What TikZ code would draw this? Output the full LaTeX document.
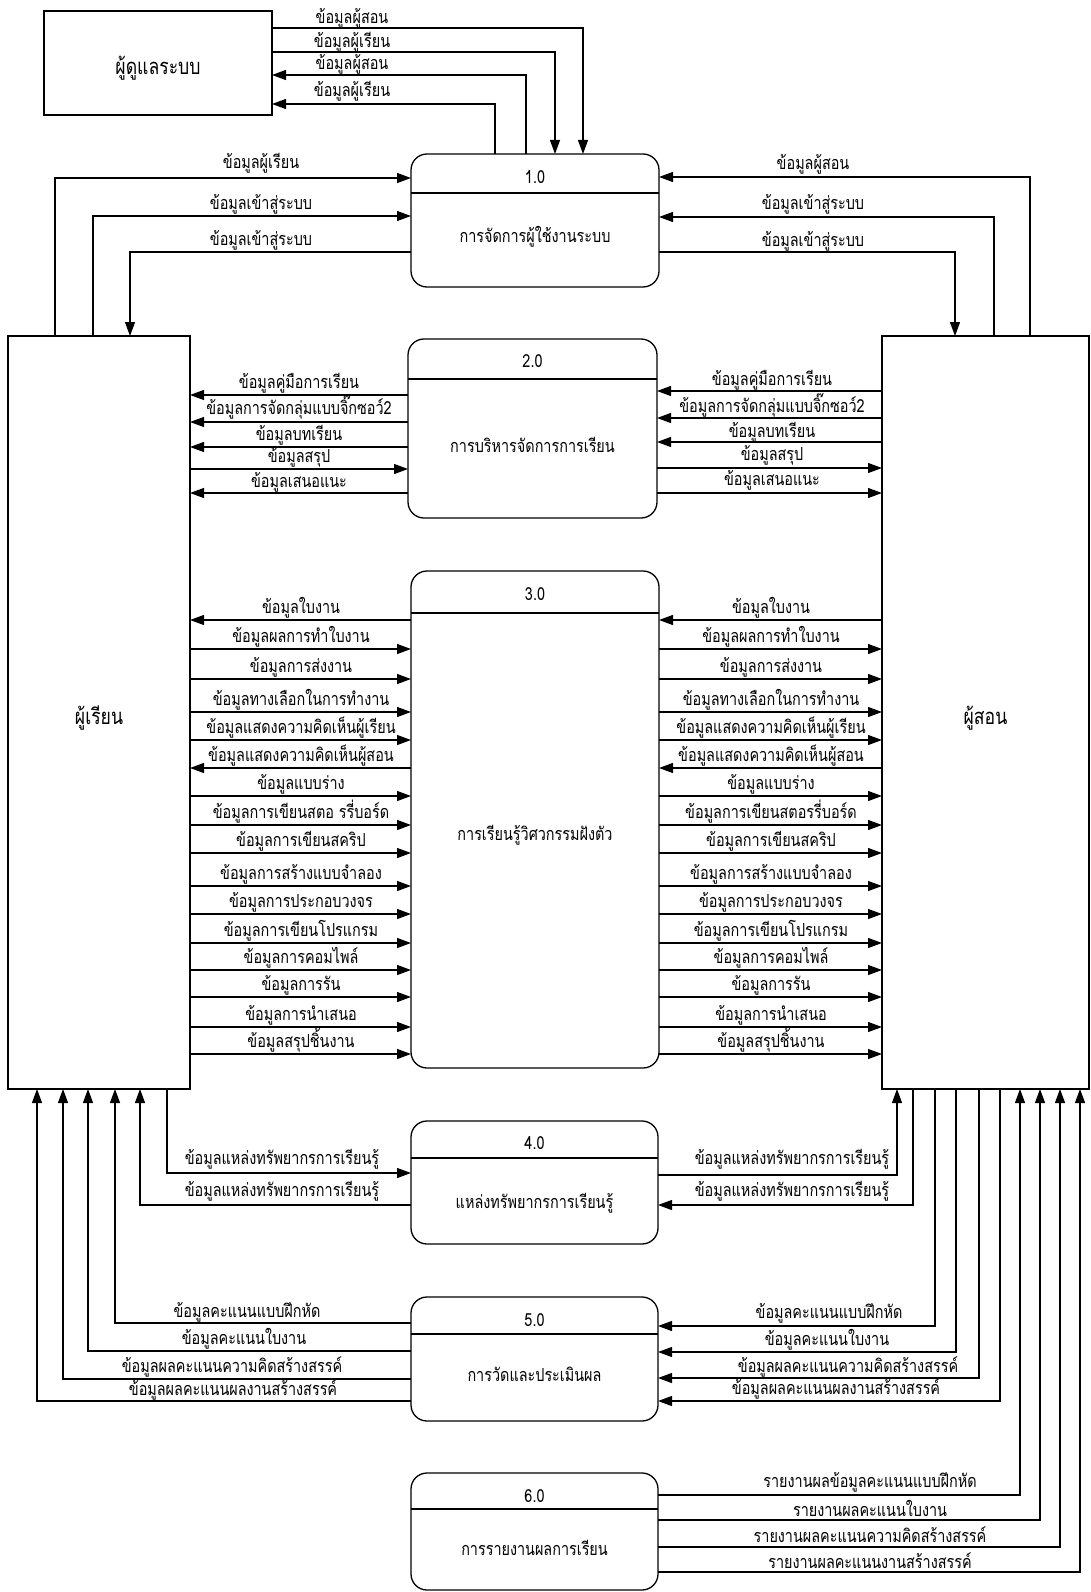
\documentclass[tikz,border=0pt]{standalone}
\usepackage{fontspec}
\setmainfont[Script=Thai,FakeStretch=0.8]{Loma}
\newfontfamily\thaifont[Script=Thai,FakeStretch=0.8]{Loma}
\usetikzlibrary{arrows.meta,calc}

\newcommand{\lblfont}{\thaifont\fontsize{18}{20}\selectfont}
\newcommand{\entfont}{\thaifont\fontsize{22}{24}\selectfont}

\tikzset{
  entity/.style={draw, line width=1.2pt, inner sep=0pt, outer sep=0pt, font=\entfont,
    text height=23pt, text depth=0pt},
  proc/.style={draw, line width=1.3pt, rounded corners=16pt, inner sep=0pt, outer sep=0pt},
  flow/.style={line width=1.2pt, -{Triangle[length=14pt,width=10pt]}},
  lbl/.style={anchor=base, inner sep=0pt, font=\lblfont},
}

\begin{document}
\begin{tikzpicture}[x=1pt, y=-1pt]
        \useasboundingbox (0,0) rectangle (1090,1592);

        % Entites externes
        \node [entity, minimum width=228pt, minimum height=104pt] (adm) at (158,63) {ผู้ดูแลระบบ};
        \node [entity, minimum width=182pt, minimum height=753pt] (stu) at (99,712.5) {ผู้เรียน};
        \node [entity, minimum width=207pt, minimum height=753pt] (tea) at (985.5,712.5) {ผู้สอน};

        % Processus 1.0 - 6.0
        \node [proc, minimum width=248pt, minimum height=133pt] (p1) at (535,220.5) {};
        \draw [line width=1.3pt] (p1.west |- 0,193) -- (p1.east |- 0,193);
        \node [font=\lblfont] (p1n) at (535,177) {1.0};
        \node [lbl] (p1t) at (535,242) {การจัดการผู้ใช้งานระบบ};

        \node [proc, minimum width=249pt, minimum height=179pt] (p2) at (532.5,428.5) {};
        \draw [line width=1.3pt] (p2.west |- 0,379) -- (p2.east |- 0,379);
        \node [font=\lblfont] (p2n) at (532.5,361) {2.0};
        \node [lbl] (p2t) at (532.5,452) {การบริหารจัดการการเรียน};

        \node [proc, minimum width=248pt, minimum height=497pt] (p3) at (535,819.5) {};
        \draw [line width=1.3pt] (p3.west |- 0,613) -- (p3.east |- 0,613);
        \node [font=\lblfont] (p3n) at (535,594) {3.0};
        \node [lbl] (p3t) at (535,840) {การเรียนรู้วิศวกรรมฝังตัว};

        \node [proc, minimum width=247pt, minimum height=123pt] (p4) at (534.5,1182.5) {};
        \draw [line width=1.3pt] (p4.west |- 0,1158) -- (p4.east |- 0,1158);
        \node [font=\lblfont] (p4n) at (534.5,1143) {4.0};
        \node [lbl] (p4t) at (534.5,1208) {แหล่งทรัพยากรการเรียนรู้};

        \node [proc, minimum width=247pt, minimum height=124pt] (p5) at (534.5,1359) {};
        \draw [line width=1.3pt] (p5.west |- 0,1334) -- (p5.east |- 0,1334);
        \node [font=\lblfont] (p5n) at (534.5,1320) {5.0};
        \node [lbl] (p5t) at (534.5,1381) {การวัดและประเมินผล};

        \node [proc, minimum width=247pt, minimum height=117pt] (p6) at (534.5,1531.5) {};
        \draw [line width=1.3pt] (p6.west |- 0,1509) -- (p6.east |- 0,1509);
        \node [font=\lblfont] (p6n) at (534.5,1496) {6.0};
        \node [lbl] (p6t) at (534.5,1555) {การรายงานผลการเรียน};

        % Flux ผู้ดูแลระบบ <-> 1.0
        \draw [flow] (adm.east |- 0,28) -| (p1.north -| 583,0);
        \draw [flow] (adm.east |- 0,52) -| (p1.north -| 555,0);
        \draw [flow] (p1.north -| 526,0) |- (adm.east |- 0,75);
        \draw [flow] (p1.north -| 495,0) |- (adm.east |- 0,104);
        \node [lbl] (la1) at (352,24) {ข้อมูลผู้สอน};
        \node [lbl] (la2) at (352,47.5) {ข้อมูลผู้เรียน};
        \node [lbl] (la3) at (352,70) {ข้อมูลผู้สอน};
        \node [lbl] (la4) at (352,97) {ข้อมูลผู้เรียน};

        % Flux ผู้เรียน / ผู้สอน <-> 1.0
        \draw [flow] (stu.north -| 55,0) |- (p1.west |- 0,178);
        \draw [flow] (stu.north -| 93,0) |- (p1.west |- 0,216);
        \draw [flow] (p1.west |- 0,252) -| (stu.north -| 130,0);
        \node [lbl] (l1a) at (261,168) {ข้อมูลผู้เรียน};
        \node [lbl] (l1b) at (261,209) {ข้อมูลเข้าสู่ระบบ};
        \node [lbl] (l1c) at (261,245) {ข้อมูลเข้าสู่ระบบ};

        \draw [flow] (tea.north -| 1030,0) |- (p1.east |- 0,177);
        \draw [flow] (tea.north -| 994,0) |- (p1.east |- 0,217);
        \draw [flow] (p1.east |- 0,252) -| (tea.north -| 955,0);
        \node [lbl] (r1a) at (813,169) {ข้อมูลผู้สอน};
        \node [lbl] (r1b) at (813,209) {ข้อมูลเข้าสู่ระบบ};
        \node [lbl] (r1c) at (813,246) {ข้อมูลเข้าสู่ระบบ};

        % Flux 2.0
        \draw [flow] (p2.west |- 0,395) -- (stu.east |- 0,395);
        \draw [flow] (p2.west |- 0,422) -- (stu.east |- 0,422);
        \draw [flow] (p2.west |- 0,447) -- (stu.east |- 0,447);
        \draw [flow] (stu.east |- 0,469) -- (p2.west |- 0,469);
        \draw [flow] (p2.west |- 0,493) -- (stu.east |- 0,493);
        \node [lbl] (l2a) at (299,388) {ข้อมูลคู่มือการเรียน};
        \node [lbl] (l2b) at (299,414) {ข้อมูลการจัดกลุ่มแบบจิ๊กซอว์2};
        \node [lbl] (l2c) at (299,440) {ข้อมูลบทเรียน};
        \node [lbl] (l2d) at (299,462) {ข้อมูลสรุป};
        \node [lbl] (l2e) at (299,487) {ข้อมูลเสนอแนะ};

        \draw [flow] (tea.west |- 0,391) -- (p2.east |- 0,391);
        \draw [flow] (tea.west |- 0,418) -- (p2.east |- 0,418);
        \draw [flow] (tea.west |- 0,442) -- (p2.east |- 0,442);
        \draw [flow] (p2.east |- 0,468) -- (tea.west |- 0,468);
        \draw [flow] (p2.east |- 0,493) -- (tea.west |- 0,493);
        \node [lbl] (r2a) at (772,385) {ข้อมูลคู่มือการเรียน};
        \node [lbl] (r2b) at (772,412) {ข้อมูลการจัดกลุ่มแบบจิ๊กซอว์2};
        \node [lbl] (r2c) at (772,437) {ข้อมูลบทเรียน};
        \node [lbl] (r2d) at (772,460) {ข้อมูลสรุป};
        \node [lbl] (r2e) at (772,485) {ข้อมูลเสนอแนะ};

        % Flux 3.0 (gauche)
        \draw [flow] (p3.west |- 0,620) -- (stu.east |- 0,620);
        \draw [flow] (stu.east |- 0,649) -- (p3.west |- 0,649);
        \draw [flow] (stu.east |- 0,679) -- (p3.west |- 0,679);
        \draw [flow] (stu.east |- 0,712) -- (p3.west |- 0,712);
        \draw [flow] (stu.east |- 0,740) -- (p3.west |- 0,740);
        \draw [flow] (p3.west |- 0,768) -- (stu.east |- 0,768);
        \draw [flow] (stu.east |- 0,796) -- (p3.west |- 0,796);
        \draw [flow] (stu.east |- 0,825) -- (p3.west |- 0,825);
        \draw [flow] (stu.east |- 0,853) -- (p3.west |- 0,853);
        \draw [flow] (stu.east |- 0,886) -- (p3.west |- 0,886);
        \draw [flow] (stu.east |- 0,914) -- (p3.west |- 0,914);
        \draw [flow] (stu.east |- 0,943) -- (p3.west |- 0,943);
        \draw [flow] (stu.east |- 0,970) -- (p3.west |- 0,970);
        \draw [flow] (stu.east |- 0,997) -- (p3.west |- 0,997);
        \draw [flow] (stu.east |- 0,1027) -- (p3.west |- 0,1027);
        \draw [flow] (stu.east |- 0,1054) -- (p3.west |- 0,1054);
        \node [lbl] (l3a) at (301,613) {ข้อมูลใบงาน};
        \node [lbl] (l3b) at (301,642) {ข้อมูลผลการทำใบงาน};
        \node [lbl] (l3c) at (301,672) {ข้อมูลการส่งงาน};
        \node [lbl] (l3d) at (301,705) {ข้อมูลทางเลือกในการทำงาน};
        \node [lbl] (l3e) at (301,733) {ข้อมูลแสดงความคิดเห็นผู้เรียน};
        \node [lbl] (l3f) at (301,761) {ข้อมูลแสดงความคิดเห็นผู้สอน};
        \node [lbl] (l3g) at (301,789) {ข้อมูลแบบร่าง};
        \node [lbl] (l3h) at (301,818) {ข้อมูลการเขียนสตอ รรี่บอร์ด};
        \node [lbl] (l3i) at (301,846) {ข้อมูลการเขียนสคริป};
        \node [lbl] (l3j) at (301,879) {ข้อมูลการสร้างแบบจำลอง};
        \node [lbl] (l3k) at (301,907) {ข้อมูลการประกอบวงจร};
        \node [lbl] (l3l) at (301,936) {ข้อมูลการเขียนโปรแกรม};
        \node [lbl] (l3m) at (301,963) {ข้อมูลการคอมไพล์};
        \node [lbl] (l3n) at (301,990) {ข้อมูลการรัน};
        \node [lbl] (l3o) at (301,1020) {ข้อมูลการนำเสนอ};
        \node [lbl] (l3p) at (301,1047) {ข้อมูลสรุปชิ้นงาน};

        % Flux 3.0 (droite)
        \draw [flow] (tea.west |- 0,620) -- (p3.east |- 0,620);
        \draw [flow] (p3.east |- 0,649) -- (tea.west |- 0,649);
        \draw [flow] (p3.east |- 0,679) -- (tea.west |- 0,679);
        \draw [flow] (p3.east |- 0,712) -- (tea.west |- 0,712);
        \draw [flow] (p3.east |- 0,740) -- (tea.west |- 0,740);
        \draw [flow] (tea.west |- 0,768) -- (p3.east |- 0,768);
        \draw [flow] (p3.east |- 0,796) -- (tea.west |- 0,796);
        \draw [flow] (p3.east |- 0,825) -- (tea.west |- 0,825);
        \draw [flow] (p3.east |- 0,853) -- (tea.west |- 0,853);
        \draw [flow] (p3.east |- 0,886) -- (tea.west |- 0,886);
        \draw [flow] (p3.east |- 0,914) -- (tea.west |- 0,914);
        \draw [flow] (p3.east |- 0,943) -- (tea.west |- 0,943);
        \draw [flow] (p3.east |- 0,970) -- (tea.west |- 0,970);
        \draw [flow] (p3.east |- 0,997) -- (tea.west |- 0,997);
        \draw [flow] (p3.east |- 0,1027) -- (tea.west |- 0,1027);
        \draw [flow] (p3.east |- 0,1054) -- (tea.west |- 0,1054);
        \node [lbl] (r3a) at (771,613) {ข้อมูลใบงาน};
        \node [lbl] (r3b) at (771,642) {ข้อมูลผลการทำใบงาน};
        \node [lbl] (r3c) at (771,672) {ข้อมูลการส่งงาน};
        \node [lbl] (r3d) at (771,705) {ข้อมูลทางเลือกในการทำงาน};
        \node [lbl] (r3e) at (771,733) {ข้อมูลแสดงความคิดเห็นผู้เรียน};
        \node [lbl] (r3f) at (771,761) {ข้อมูลแสดงความคิดเห็นผู้สอน};
        \node [lbl] (r3g) at (771,789) {ข้อมูลแบบร่าง};
        \node [lbl] (r3h) at (771,818) {ข้อมูลการเขียนสตอรรี่บอร์ด};
        \node [lbl] (r3i) at (771,846) {ข้อมูลการเขียนสคริป};
        \node [lbl] (r3j) at (771,879) {ข้อมูลการสร้างแบบจำลอง};
        \node [lbl] (r3k) at (771,907) {ข้อมูลการประกอบวงจร};
        \node [lbl] (r3l) at (771,936) {ข้อมูลการเขียนโปรแกรม};
        \node [lbl] (r3m) at (771,963) {ข้อมูลการคอมไพล์};
        \node [lbl] (r3n) at (771,990) {ข้อมูลการรัน};
        \node [lbl] (r3o) at (771,1020) {ข้อมูลการนำเสนอ};
        \node [lbl] (r3p) at (771,1047) {ข้อมูลสรุปชิ้นงาน};

        % Flux 4.0
        \draw [flow] (stu.south -| 167,0) |- (p4.west |- 0,1173);
        \draw [flow] (p4.west |- 0,1205) -| (stu.south -| 140,0);
        \draw [flow] (p4.east |- 0,1175) -| (tea.south -| 897,0);
        \draw [flow] (tea.south -| 913,0) |- (p4.east |- 0,1205);
        \node [lbl] (l4a) at (282,1164) {ข้อมูลแหล่งทรัพยากรการเรียนรู้};
        \node [lbl] (l4b) at (282,1196) {ข้อมูลแหล่งทรัพยากรการเรียนรู้};
        \node [lbl] (r4a) at (792,1164) {ข้อมูลแหล่งทรัพยากรการเรียนรู้};
        \node [lbl] (r4b) at (792,1196) {ข้อมูลแหล่งทรัพยากรการเรียนรู้};

        % Flux 5.0
        \draw [flow] (p5.west |- 0,1323) -| (stu.south -| 115,0);
        \draw [flow] (p5.west |- 0,1351) -| (stu.south -| 88,0);
        \draw [flow] (p5.west |- 0,1379) -| (stu.south -| 63,0);
        \draw [flow] (p5.west |- 0,1401) -| (stu.south -| 37,0);
        \node [lbl] (l5a) at (247,1317) {ข้อมูลคะแนนแบบฝึกหัด};
        \node [lbl] (l5b) at (244,1344) {ข้อมูลคะแนนใบงาน};
        \node [lbl] (l5c) at (232,1372) {ข้อมูลผลคะแนนความคิดสร้างสรรค์};
        \node [lbl] (l5d) at (233,1395) {ข้อมูลผลคะแนนผลงานสร้างสรรค์};

        \draw [flow] (tea.south -| 935,0) |- (p5.east |- 0,1326);
        \draw [flow] (tea.south -| 956,0) |- (p5.east |- 0,1352);
        \draw [flow] (tea.south -| 979,0) |- (p5.east |- 0,1378);
        \draw [flow] (tea.south -| 1000,0) |- (p5.east |- 0,1401);
        \node [lbl] (r5a) at (829,1318) {ข้อมูลคะแนนแบบฝึกหัด};
        \node [lbl] (r5b) at (827,1345) {ข้อมูลคะแนนใบงาน};
        \node [lbl] (r5c) at (848,1372) {ข้อมูลผลคะแนนความคิดสร้างสรรค์};
        \node [lbl] (r5d) at (836,1394) {ข้อมูลผลคะแนนผลงานสร้างสรรค์};

        % Flux 6.0
        \draw [flow] (p6.east |- 0,1495) -| (tea.south -| 1020,0);
        \draw [flow] (p6.east |- 0,1520) -| (tea.south -| 1040,0);
        \draw [flow] (p6.east |- 0,1547) -| (tea.south -| 1060,0);
        \draw [flow] (p6.east |- 0,1572) -| (tea.south -| 1080,0);
        \node [lbl] (r6a) at (870,1487) {รายงานผลข้อมูลคะแนนแบบฝึกหัด};
        \node [lbl] (r6b) at (870,1516) {รายงานผลคะแนนใบงาน};
        \node [lbl] (r6c) at (870,1542) {รายงานผลคะแนนความคิดสร้างสรรค์};
        \node [lbl] (r6d) at (870,1568) {รายงานผลคะแนนงานสร้างสรรค์};
\end{tikzpicture}
\end{document}
